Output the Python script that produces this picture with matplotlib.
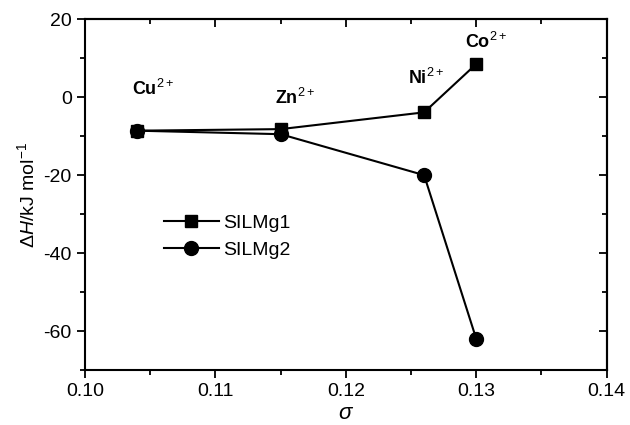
import numpy as np
import matplotlib.pyplot as plt
from matplotlib.ticker import MultipleLocator, FormatStrFormatter

plt.rcParams['font.family'] = ['Liberation Sans', 'DejaVu Sans']
plt.rcParams['mathtext.fontset'] = 'custom'
plt.rcParams['mathtext.rm'] = 'Liberation Sans'
plt.rcParams['mathtext.it'] = 'Liberation Sans:italic'
plt.rcParams['mathtext.sf'] = 'Liberation Sans'
plt.rcParams['axes.unicode_minus'] = False

# data
sigma = [0.104, 0.115, 0.126, 0.130]
silmg1 = [-8.6, -8.2, -3.9, 8.5]
silmg2 = [-8.6, -9.5, -20.0, -62.0]
ions = ['Cu$^{2+}$', 'Zn$^{2+}$', 'Ni$^{2+}$', 'Co$^{2+}$']
ion_x = [0.1036, 0.1146, 0.1248, 0.1291]
ion_y = [0.5, -1.8, 3.4, 12.5]

fig = plt.figure(figsize=(6.3, 4.25), dpi=100)
ax = fig.add_axes([0.135, 0.129, 0.828, 0.826])

ax.plot(sigma, silmg1, 'k-s', lw=1.5, ms=9, label='SILMg1')
ax.plot(sigma, silmg2, 'k-o', lw=1.5, ms=10, label='SILMg2')

for lab, x, y in zip(ions, ion_x, ion_y):
    ax.text(x, y, lab, fontsize=13, fontweight='bold', va='baseline', ha='left')

ax.set_xlim(0.10, 0.14)
ax.set_ylim(-70, 20)
ax.xaxis.set_major_locator(MultipleLocator(0.01))
ax.xaxis.set_minor_locator(MultipleLocator(0.005))
ax.xaxis.set_major_formatter(FormatStrFormatter('%.2f'))
ax.yaxis.set_major_locator(MultipleLocator(20))
ax.yaxis.set_minor_locator(MultipleLocator(10))
ax.tick_params(which='both', direction='out', labelsize=14, width=1.3)
ax.tick_params(which='major', length=6)
ax.tick_params(which='minor', length=3.5)

# ticks pointing inward on the opposite sides
top = ax.secondary_xaxis('top')
top.xaxis.set_major_locator(MultipleLocator(0.01))
top.xaxis.set_minor_locator(MultipleLocator(0.005))
top.tick_params(which='both', direction='in', labeltop=False, width=1.3)
top.tick_params(which='major', length=6)
top.tick_params(which='minor', length=3.5)
right = ax.secondary_yaxis('right')
right.yaxis.set_major_locator(MultipleLocator(20))
right.yaxis.set_minor_locator(MultipleLocator(10))
right.tick_params(which='both', direction='in', labelright=False, width=1.3)
right.tick_params(which='major', length=6)
right.tick_params(which='minor', length=3.5)
for s in ax.spines.values():
    s.set_linewidth(1.5)
top.spines['top'].set_linewidth(1.5)
right.spines['right'].set_linewidth(1.5)

ax.set_xlabel(r'$\sigma$', fontsize=16, family='DejaVu Serif', labelpad=1)
ax.set_ylabel(r'$\Delta\mathit{H}$/kJ mol$^{-1}$', fontsize=14, labelpad=4)

ax.legend(loc='center left', bbox_to_anchor=(0.118, 0.38), frameon=False, fontsize=14,
          handlelength=2.8, handletextpad=0.25, labelspacing=0.5)

fig.savefig('out.png', dpi=100)
